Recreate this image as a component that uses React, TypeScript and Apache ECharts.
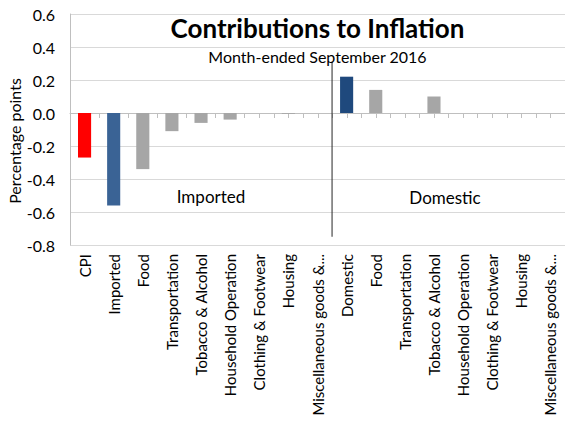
import React, { useEffect, useRef } from "react";
import * as echarts from "echarts";

const categories = [
  "CPI",
  "Imported",
  "Food",
  "Transportation",
  "Tobacco & Alcohol",
  "Household Operation",
  "Clothing & Footwear",
  "Housing",
  "Miscellaneous goods &...",
  "Domestic",
  "Food",
  "Transportation",
  "Tobacco & Alcohol",
  "Household Operation",
  "Clothing & Footwear",
  "Housing",
  "Miscellaneous goods &...",
];
const values = [-0.27, -0.56, -0.34, -0.11, -0.06, -0.04, 0, -0.005, 0, 0.22, 0.14, 0, 0.1, 0, 0, 0, 0];
const barKinds = ["cpi", "imported", "g", "g", "g", "g", "g", "g", "g", "domestic", "g", "g", "g", "g", "g", "g", "g"];
const kindColors: Record<string, string> = {
  cpi: "#FF0000",
  imported: "#3A6395",
  domestic: "#1F497D",
  g: "#A6A6A6",
};
const yMin = -0.8;
const yMax = 0.6;
const yInterval = 0.2;
const titleText = "Contributions to Inflation";
const subtitleText = "Month-ended September 2016";
const yAxisName = "Percentage points";
const groupLabels = ["Imported", "Domestic"];

const FONT = "Lato, 'Open Sans', sans-serif";

export default function App() {
  const ref = useRef<HTMLDivElement>(null);
  useEffect(() => {
    document.body.style.margin = "0";
    const chart = echarts.init(ref.current!, null, { renderer: "svg" });
    const gridLeft = 70;
    const gridRight = 0;
    const gridTop = 14;
    const gridBottom = 178;
    chart.setOption({
      animation: false,
      textStyle: { fontFamily: FONT },
      grid: {
        left: gridLeft,
        right: gridRight,
        top: gridTop,
        bottom: gridBottom,
        containLabel: false,
        outerBoundsMode: "none",
      },
      xAxis: {
        type: "category",
        data: categories,
        axisLine: { onZero: true, show: true, lineStyle: { color: "#BFBFBF", width: 1 } },
        axisTick: { show: true, length: 5, lineStyle: { color: "#BFBFBF" } },
        axisLabel: {
          rotate: 90,
          interval: 0,
          fontSize: 15,
          color: "#000",
          fontFamily: FONT,
          margin: 9,
        },
      },
      yAxis: {
        type: "value",
        min: yMin,
        max: yMax,
        interval: yInterval,
        axisLine: { show: true, lineStyle: { color: "#BFBFBF" } },
        axisTick: { show: false },
        splitLine: { lineStyle: { color: "#D9D9D9" } },
        axisLabel: {
          fontSize: 16,
          color: "#000",
          margin: 15,
          fontFamily: FONT,
          formatter: (v: number) => v.toFixed(1),
        },
      },
      series: [
        {
          type: "bar",
          barWidth: "45%",
          data: values.map((v, i) => ({ value: v, itemStyle: { color: kindColors[barKinds[i]] } })),
          z: 3,
        },
        {
          type: "custom",
          silent: true,
          z: 1,
          data: categories.map((_, i) => i),
          renderItem: (params: any, api: any) => {
            const p = api.coord([api.value(0), 0]);
            return {
              type: "line",
              shape: { x1: Math.round(p[0]) + 0.5, y1: p[1], x2: Math.round(p[0]) + 0.5, y2: p[1] + 5 },
              style: { stroke: "#BFBFBF", lineWidth: 1 },
            };
          },
        },
      ],
    });

    const x8 = chart.convertToPixel({ xAxisIndex: 0 }, 8) as number;
    const x9 = chart.convertToPixel({ xAxisIndex: 0 }, 9) as number;
    const xDiv = (x8 + x9) / 2;
    const yTopDiv = chart.convertToPixel({ yAxisIndex: 0 }, 0.31) as number;
    const yBotDiv = chart.convertToPixel({ yAxisIndex: 0 }, -0.75) as number;
    const cx = (gridLeft + (565 - gridRight)) / 2;

    chart.setOption({
      graphic: [
        {
          type: "line",
          shape: { x1: xDiv, y1: yTopDiv, x2: xDiv, y2: yBotDiv },
          style: { stroke: "#262626", lineWidth: 1 },
          z: 10,
        },
        {
          type: "text",
          x: cx,
          y: 28,
          style: {
            text: titleText,
            font: `bold 26px ${FONT}`,
            fill: "#000",
            align: "center",
            verticalAlign: "middle",
          },
          z: 10,
        },
        {
          type: "text",
          x: cx,
          y: 56,
          style: {
            text: subtitleText,
            font: `16px ${FONT}`,
            fill: "#000",
            align: "center",
            verticalAlign: "middle",
          },
          z: 10,
        },
        {
          type: "text",
          x: 14,
          y: 141,
          rotation: Math.PI / 2,
          style: {
            text: yAxisName,
            font: `16px ${FONT}`,
            fill: "#000",
            align: "center",
            verticalAlign: "middle",
          },
          z: 10,
        },
        {
          type: "text",
          x: 211,
          y: 196,
          style: { text: groupLabels[0], font: `17px ${FONT}`, fill: "#000", align: "center", verticalAlign: "middle" },
          z: 10,
        },
        {
          type: "text",
          x: 445,
          y: 197,
          style: { text: groupLabels[1], font: `17px ${FONT}`, fill: "#000", align: "center", verticalAlign: "middle" },
          z: 10,
        },
      ],
    });

    return () => chart.dispose();
  }, []);
  return <div ref={ref} style={{ width: 565, height: 423 }} />;
}
